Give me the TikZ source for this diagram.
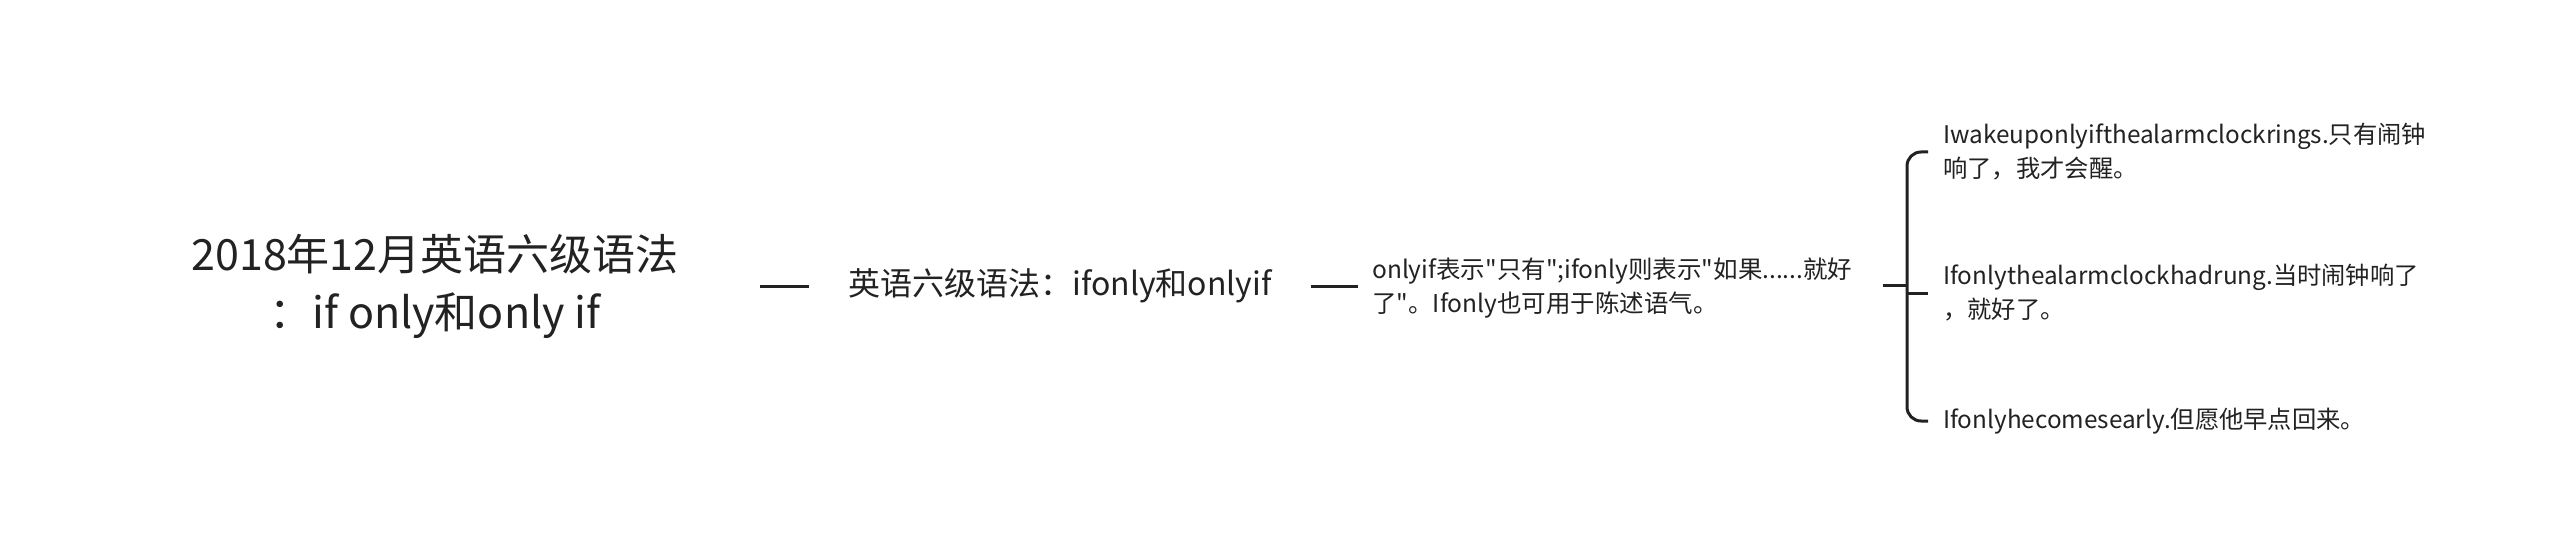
\documentclass[tikz,border=0pt]{standalone}
\usepackage{fontspec}
\newfontfamily\cjk{Noto Sans CJK SC}
\definecolor{txt}{HTML}{222222}
\definecolor{ln}{HTML}{222222}
\begin{document}
\begin{tikzpicture}[x=1pt,y=1pt,
  every node/.style={text=txt, inner ysep=0pt},
  conn/.style={draw=ln, line width=3pt},
  titlebox/.style={font=\cjk\fontsize{43}{58}\selectfont, align=center, inner xsep=81pt},
  midbox/.style={font=\cjk\fontsize{32}{40}\selectfont, align=center, inner xsep=39pt},
  descbox/.style={font=\cjk\fontsize{24.5}{34}\selectfont, align=left, inner xsep=14pt, text width=497pt},
  leafbox/.style={font=\cjk\fontsize{24.3}{34}\selectfont, align=left, inner xsep=15pt, anchor=west}
]
\useasboundingbox[fill=white] (0,0) rectangle (2560,-556);
\node[titlebox] (title) at (435,-286) {2018年12月英语六级语法\\：if only和only if};
\node[midbox, anchor=west] (mid) at (809,-286) {英语六级语法：ifonly和onlyif};
\node[descbox, anchor=west] (desc) at (1358,-288) {onlyif表示"只有";ifonly则表示"如果......就好\\了"。Ifonly也可用于陈述语气。};
\node[leafbox] (c1) at (1928,-152) {Iwakeuponlyifthealarmclockrings.只有闹钟\\响了，我才会醒。};
\node[leafbox] (c2) at (1928,-293) {Ifonlythealarmclockhadrung.当时闹钟响了\\，就好了。};
\node[leafbox] (c3) at (1928,-421) {Ifonlyhecomesearly.但愿他早点回来。};
\coordinate (j) at (1907,-285);
\draw[conn] (title.east) -- (mid.west);
\draw[conn] (mid.east) -- (desc.west |- mid.east);
\draw[conn] (desc.east |- j) -- (j);
\draw[conn, rounded corners=14pt] (c1.west) -- (c1.west -| j) -- (c3.west -| j) -- (c3.west);
\draw[conn] (c2.west -| j) -- (c2.west);
\end{tikzpicture}
\end{document}
